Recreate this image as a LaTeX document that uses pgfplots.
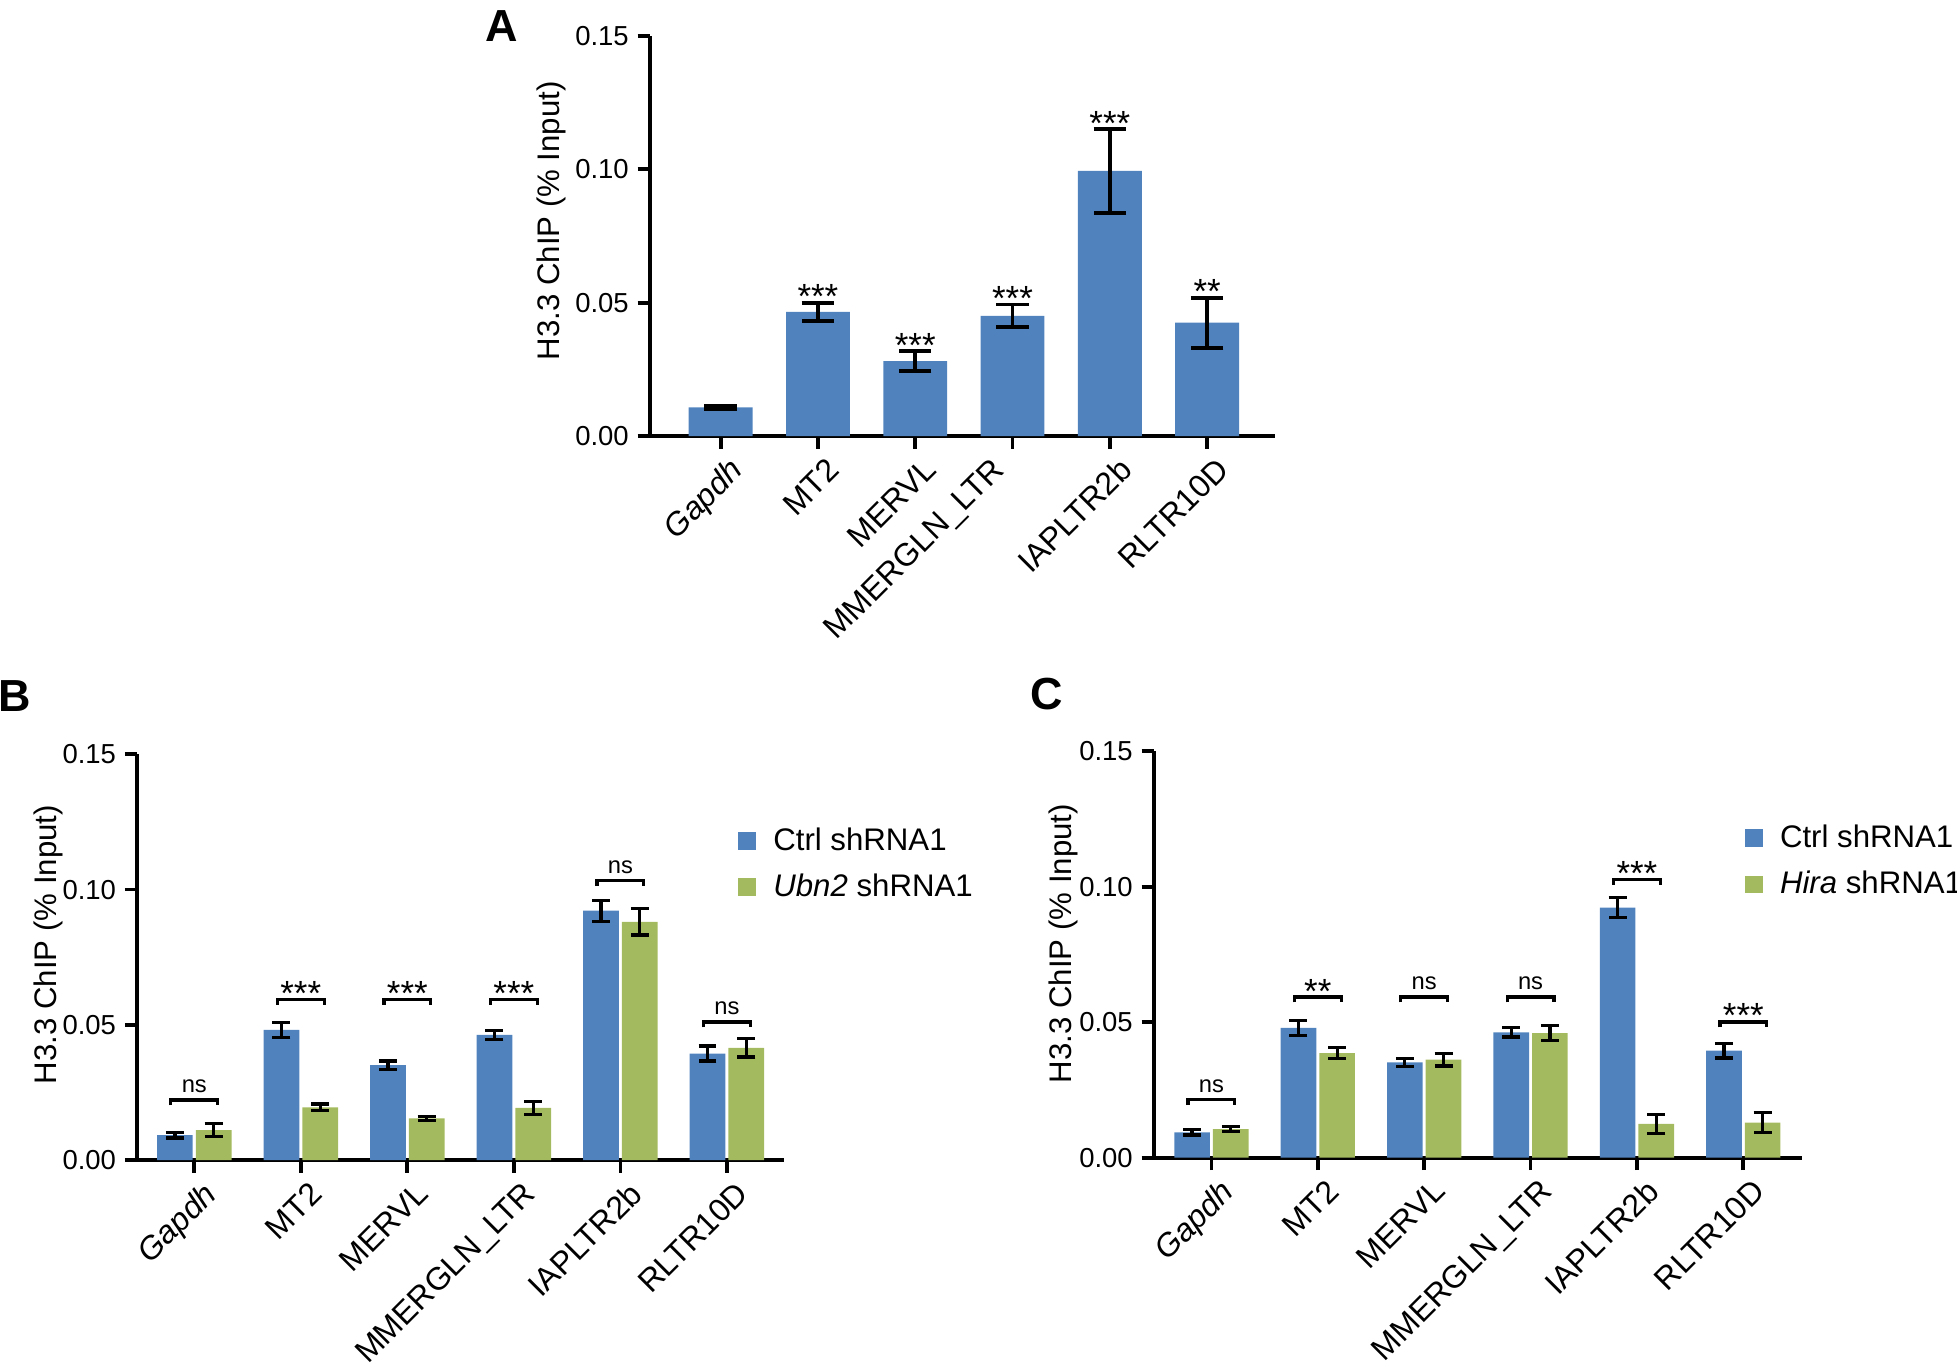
\documentclass[border=0pt]{standalone}
\usepackage{fontspec}
\setmainfont{Liberation Sans}
\usepackage{pgfplots}
\pgfplotsset{compat=1.18}
\definecolor{cblue}{RGB}{80,130,190}
\definecolor{cgreen}{RGB}{164,186,94}
\newcommand\fs[1]{\fontsize{#1}{#1}\selectfont}
\pgfplotsset{
  mmshift/.initial=0pt,
  chip/.style={
    scale only axis, anchor=south west,
    axis lines*=left,
    axis line style={line width=1.5pt,-},
    tick style={line width=1.5pt,black},
    tick align=outside, major tick length=5pt,
    ymin=0, ymax=0.15,
    ytick={0,0.05,0.1,0.15},
    /pgf/number format/assume math mode=true,
    tick label style={font=\fs{11}},
    xtick={0,...,5},
    xticklabels={\textit{Gapdh},MT2,MERVL,MMERGLN\_LTR,IAPLTR2b,RLTR10D},
    x tick label style={
      /utils/exec={\ifdefined\ticknum\ifnum\ticknum=3 \pgfkeysalso{xshift=\pgfkeysvalueof{/pgfplots/mmshift}}\fi\fi},
      xshift=3pt,yshift=2pt,rotate=45,anchor=north east,font=\fs{12.8}},
    ylabel={H3.3 ChIP (\% Input)},
    ylabel style={font=\fs{12.5},anchor=center},
    clip=false,
    ybar,
    error bars/y dir=both,
    error bars/y explicit,
    y tick label style={/pgf/number format/.cd,fixed,fixed zerofill,precision=2},
  },
  sq/.style={legend image code/.code={\fill[##1] (0pt,-3.5pt) rectangle (7pt,3.5pt);}},
  leg/.style={legend style={at={(#1)},anchor=north west,draw=none,fill=none,font=\fs{12.5},row sep=5pt,nodes={inner sep=1.5pt},
      /tikz/every odd column/.append style={column sep=5.5pt}},
    legend cell align=left},
}
\begin{document}
\begin{tikzpicture}
\useasboundingbox (0,0) rectangle (784pt,547pt);
% ---------------- A
\begin{axis}[chip,
  mmshift=-12pt,
  at={(260.4pt,372.3pt)}, width=250.4pt, height=160.3pt,
  xmin=-0.726, xmax=5.698,
  ylabel style={at={(axis description cs:-0.157,0.538)}},
  error bars/error bar style={line width=1.5pt,black},
  error bars/error mark options={rotate=90,mark size=6.5pt,line width=1.5pt,black},
]
\addplot[fill=cblue,draw=none,bar width=0.656] coordinates {
  (0,0.0108) +- (0,0.0006)
  (1,0.0466) +- (0,0.0034)
  (2,0.0281) +- (0,0.0037)
  (3,0.0451) +- (0,0.0042)
  (4,0.0994) +- (0,0.0157)
  (5,0.0425) +- (0,0.0094)
};
\node[anchor=south,inner sep=0pt,yshift=-2.6pt,font=\fs{14}] at (axis cs:1,0.0500) {***};
\node[anchor=south,inner sep=0pt,yshift=-2.6pt,font=\fs{14}] at (axis cs:2,0.0318) {***};
\node[anchor=south,inner sep=0pt,yshift=-2.6pt,font=\fs{14}] at (axis cs:3,0.0493) {***};
\node[anchor=south,inner sep=0pt,yshift=-2.6pt,font=\fs{14}] at (axis cs:4,0.1151) {***};
\node[anchor=south,inner sep=0pt,yshift=-2.6pt,font=\fs{14}] at (axis cs:5,0.0519) {**};
\end{axis}
% ---------------- B
\begin{axis}[chip,
  at={(55pt,82.25pt)}, width=259.25pt, height=162.55pt,
  xmin=-0.535, xmax=5.54,
  ylabel style={at={(axis description cs:-0.138,0.531)}},
  error bars/error bar style={line width=1.3pt,black},
  error bars/error mark options={rotate=90,mark size=3.6pt,line width=1.3pt,black},
  leg={0.9165,0.842},
]
\addplot[fill=cblue,draw=none,bar width=0.335,bar shift=-0.182,sq] coordinates {
  (0,0.0092) +- (0,0.0010)
  (1,0.0481) +- (0,0.0029)
  (2,0.0351) +- (0,0.0015)
  (3,0.0463) +- (0,0.0017)
  (4,0.0922) +- (0,0.0039)
  (5,0.0394) +- (0,0.0028)
};
\addplot[fill=cgreen,draw=none,bar width=0.335,bar shift=0.182,sq] coordinates {
  (0,0.0111) +- (0,0.0025)
  (1,0.0195) +- (0,0.0012)
  (2,0.0154) +- (0,0.0008)
  (3,0.0193) +- (0,0.0025)
  (4,0.0881) +- (0,0.0049)
  (5,0.0415) +- (0,0.0034)
};
\legend{Ctrl shRNA1,\textit{Ubn2} shRNA1}
\draw[line width=1.3pt] (axis cs:-0.22,0.0202) |- (axis cs:0.22,0.0222) -- (axis cs:0.22,0.0202);
\draw[line width=1.3pt] (axis cs:0.78,0.0574) |- (axis cs:1.22,0.0594) -- (axis cs:1.22,0.0574);
\draw[line width=1.3pt] (axis cs:1.78,0.0574) |- (axis cs:2.22,0.0594) -- (axis cs:2.22,0.0574);
\draw[line width=1.3pt] (axis cs:2.78,0.0574) |- (axis cs:3.22,0.0594) -- (axis cs:3.22,0.0574);
\draw[line width=1.3pt] (axis cs:3.78,0.1013) |- (axis cs:4.22,0.1033) -- (axis cs:4.22,0.1013);
\draw[line width=1.3pt] (axis cs:4.78,0.0491) |- (axis cs:5.22,0.0511) -- (axis cs:5.22,0.0491);
\node[anchor=south,inner sep=0pt,yshift=2.7pt,font=\fs{9.5}] at (axis cs:0,0.0222) {ns};
\node[anchor=south,inner sep=0pt,yshift=-2.6pt,font=\fs{14}] at (axis cs:1,0.0594) {***};
\node[anchor=south,inner sep=0pt,yshift=-2.6pt,font=\fs{14}] at (axis cs:2,0.0594) {***};
\node[anchor=south,inner sep=0pt,yshift=-2.6pt,font=\fs{14}] at (axis cs:3,0.0594) {***};
\node[anchor=south,inner sep=0pt,yshift=2.7pt,font=\fs{9.5}] at (axis cs:4,0.1033) {ns};
\node[anchor=south,inner sep=0pt,yshift=2.7pt,font=\fs{9.5}] at (axis cs:5,0.0511) {ns};
\end{axis}
% ---------------- C
\begin{axis}[chip,
  at={(462.3pt,83.2pt)}, width=259.4pt, height=162.8pt,
  xmin=-0.54, xmax=5.547,
  ylabel style={at={(axis description cs:-0.14,0.527)}},
  error bars/error bar style={line width=1.3pt,black},
  error bars/error mark options={rotate=90,mark size=3.6pt,line width=1.3pt,black},
  leg={0.9005,0.842},
]
\addplot[fill=cblue,draw=none,bar width=0.335,bar shift=-0.182,sq] coordinates {
  (0,0.0094) +- (0,0.0010)
  (1,0.0479) +- (0,0.0028)
  (2,0.0352) +- (0,0.0014)
  (3,0.0463) +- (0,0.0017)
  (4,0.0923) +- (0,0.0037)
  (5,0.0395) +- (0,0.0027)
};
\addplot[fill=cgreen,draw=none,bar width=0.335,bar shift=0.182,sq] coordinates {
  (0,0.0106) +- (0,0.0008)
  (1,0.0386) +- (0,0.0020)
  (2,0.0362) +- (0,0.0023)
  (3,0.0460) +- (0,0.0028)
  (4,0.0125) +- (0,0.0035)
  (5,0.0130) +- (0,0.0038)
};
\legend{Ctrl shRNA1,\textit{Hira} shRNA1}
\draw[line width=1.3pt] (axis cs:-0.22,0.0194) |- (axis cs:0.22,0.0214) -- (axis cs:0.22,0.0194);
\draw[line width=1.3pt] (axis cs:0.78,0.0573) |- (axis cs:1.22,0.0593) -- (axis cs:1.22,0.0573);
\draw[line width=1.3pt] (axis cs:1.78,0.0573) |- (axis cs:2.22,0.0593) -- (axis cs:2.22,0.0573);
\draw[line width=1.3pt] (axis cs:2.78,0.0573) |- (axis cs:3.22,0.0593) -- (axis cs:3.22,0.0573);
\draw[line width=1.3pt] (axis cs:3.78,0.1008) |- (axis cs:4.22,0.1028) -- (axis cs:4.22,0.1008);
\draw[line width=1.3pt] (axis cs:4.78,0.0481) |- (axis cs:5.22,0.0501) -- (axis cs:5.22,0.0481);
\node[anchor=south,inner sep=0pt,yshift=2.7pt,font=\fs{9.5}] at (axis cs:0,0.0214) {ns};
\node[anchor=south,inner sep=0pt,yshift=-2.6pt,font=\fs{14}] at (axis cs:1,0.0593) {**};
\node[anchor=south,inner sep=0pt,yshift=2.7pt,font=\fs{9.5}] at (axis cs:2,0.0593) {ns};
\node[anchor=south,inner sep=0pt,yshift=2.7pt,font=\fs{9.5}] at (axis cs:3,0.0593) {ns};
\node[anchor=south,inner sep=0pt,yshift=-2.6pt,font=\fs{14}] at (axis cs:4,0.1028) {***};
\node[anchor=south,inner sep=0pt,yshift=-2.6pt,font=\fs{14}] at (axis cs:5,0.0501) {***};
\end{axis}
\node[font=\bfseries\fs{18}] at (201pt,536.5pt) {A};
\node[font=\bfseries\fs{18}] at (6pt,268pt) {B};
\node[font=\bfseries\fs{18}] at (419.5pt,269pt) {C};
\end{tikzpicture}
\end{document}
